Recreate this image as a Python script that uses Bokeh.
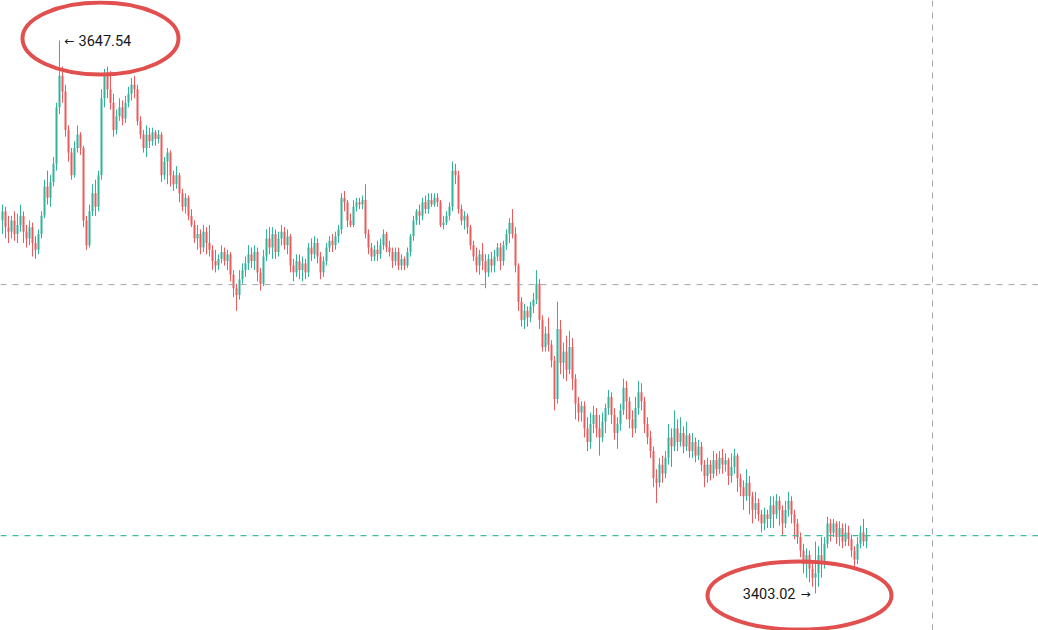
import numpy as np
from bokeh.plotting import figure
from bokeh.models import Range1d, Span, Label
from bokeh.embed import file_html
from bokeh.resources import INLINE

opens = [3568,3572,3565,3563,3568,3562,3566,3570,3563,3560,
3565,3558,3555,3562,3570,3583,3578,3585,3593,3618,
3632,3625,3608,3598,3588,3600,3606,3600,3568,3557,
3572,3580,3574,3588,3622,3632,3626,3620,3608,3614,
3618,3613,3620,3624,3628,3626,3612,3606,3600,3606,
3603,3607,3604,3606,3588,3594,3598,3588,3584,3588,
3580,3574,3578,3570,3566,3560,3562,3556,3563,3558,
3555,3550,3548,3551,3554,3550,3553,3544,3538,3535,
3542,3546,3549,3553,3550,3554,3545,3540,3552,3560,
3556,3562,3554,3560,3563,3557,3561,3548,3545,3550,
3546,3549,3545,3556,3553,3558,3552,3545,3550,3556,
3559,3557,3561,3564,3578,3576,3568,3566,3574,3576,
3575,3577,3562,3556,3552,3555,3553,3557,3562,3556,
3554,3550,3554,3548,3551,3548,3554,3561,3568,3572,
3570,3576,3573,3577,3575,3578,3576,3566,3567,3570,
3574,3590,3588,3573,3568,3570,3565,3557,3552,3548,
3553,3550,3545,3551,3548,3552,3556,3550,3557,3562,
3567,3562,3548,3532,3524,3528,3525,3530,3533,3540,
3524,3512,3518,3513,3506,3489,3520,3505,3510,3502,
3512,3498,3487,3483,3486,3476,3470,3478,3482,3476,
3472,3479,3485,3490,3482,3474,3478,3484,3494,3488,
3480,3476,3485,3492,3488,3478,3472,3466,3454,3452,
3460,3456,3463,3472,3468,3476,3470,3474,3468,3473,
3466,3470,3464,3468,3460,3455,3460,3456,3462,3458,
3463,3460,3462,3455,3459,3464,3454,3450,3446,3452,
3446,3440,3443,3438,3434,3438,3436,3442,3438,3444,
3440,3434,3440,3444,3438,3434,3428,3422,3416,3420,
3414,3410,3412,3420,3416,3425,3434,3430,3434,3428,
3432,3426,3430,3427,3422,3418,3425,3430,3426]

highs = [3575,3574,3570,3570,3572,3571,3575,3572,3566,3568,
3567,3561,3564,3572,3586,3590,3588,3596,3620,3647.54,
3636,3628,3610,3600,3603,3610,3607,3601,3570,3575,
3584,3586,3590,3626,3635,3636,3634,3624,3617,3622,
3621,3623,3627,3631,3632,3628,3614,3608,3610,3609,
3609,3608,3608,3607,3596,3600,3599,3590,3592,3589,
3582,3580,3579,3573,3568,3566,3564,3566,3565,3566,
3557,3555,3553,3557,3556,3555,3554,3546,3540,3546,
3549,3552,3557,3556,3557,3556,3547,3555,3564,3565,
3565,3564,3563,3566,3565,3564,3562,3551,3553,3553,
3552,3551,3558,3560,3561,3560,3554,3552,3558,3561,
3562,3563,3566,3580,3581,3577,3571,3577,3578,3578,
3579,3584,3564,3558,3557,3559,3560,3564,3563,3559,
3556,3556,3556,3553,3552,3556,3562,3570,3573,3575,
3578,3579,3580,3580,3580,3580,3577,3570,3572,3576,
3594,3593,3590,3575,3572,3571,3566,3559,3556,3555,
3558,3553,3553,3554,3555,3558,3558,3559,3564,3569,
3573,3565,3549,3534,3531,3530,3532,3536,3546,3542,
3526,3521,3525,3515,3508,3532,3524,3514,3517,3519,
3516,3500,3490,3488,3488,3481,3483,3486,3485,3482,
3483,3487,3493,3492,3485,3481,3487,3498,3497,3490,
3484,3490,3497,3496,3490,3481,3475,3468,3458,3463,
3464,3466,3478,3476,3484,3480,3481,3477,3479,3474,
3474,3472,3471,3470,3462,3463,3462,3466,3465,3466,
3467,3465,3463,3465,3467,3465,3456,3453,3458,3455,
3448,3448,3445,3440,3441,3440,3446,3446,3447,3446,
3442,3444,3448,3446,3440,3436,3430,3425,3423,3422,
3417,3426,3424,3428,3428,3437,3436,3436,3435,3435,
3434,3434,3433,3429,3424,3428,3433,3436,3432]

lows = [3562,3560,3558,3560,3559,3558,3563,3558,3556,3557,
3552,3551,3553,3560,3569,3575,3574,3583,3590,3615,
3620,3605,3594,3586,3587,3598,3597,3565,3555,3556,
3570,3570,3572,3586,3618,3622,3617,3605,3606,3612,
3610,3611,3618,3621,3622,3610,3604,3598,3596,3600,
3601,3601,3602,3585,3586,3584,3583,3581,3582,3576,
3572,3571,3568,3565,3558,3555,3553,3554,3553,3552,
3546,3545,3546,3549,3548,3546,3541,3534,3528,3533,
3540,3543,3546,3547,3546,3541,3537,3539,3550,3553,
3551,3551,3552,3557,3555,3553,3545,3541,3543,3542,
3541,3542,3543,3550,3551,3549,3542,3543,3548,3554,
3554,3555,3558,3562,3572,3565,3565,3565,3572,3573,
3573,3560,3553,3550,3550,3550,3551,3555,3554,3552,
3547,3548,3546,3546,3546,3547,3552,3559,3566,3566,
3568,3571,3571,3574,3574,3574,3565,3564,3566,3568,
3572,3584,3571,3566,3564,3562,3555,3550,3545,3544,
3546,3538,3543,3545,3545,3550,3546,3548,3555,3558,
3560,3545,3528,3521,3520,3521,3523,3527,3531,3520,
3510,3510,3510,3503,3484,3487,3500,3498,3497,3500,
3493,3480,3479,3479,3472,3466,3467,3474,3472,3464,
3470,3474,3482,3478,3471,3467,3475,3482,3480,3476,
3472,3474,3482,3484,3474,3469,3463,3450,3443,3450,
3452,3454,3460,3459,3466,3466,3468,3465,3466,3463,
3463,3461,3462,3457,3450,3452,3453,3454,3455,3456,
3456,3457,3451,3452,3456,3448,3446,3440,3444,3438,
3434,3436,3435,3430,3431,3432,3432,3432,3436,3433,
3429,3432,3437,3434,3427,3425,3419,3412,3410,3408,
3406,3403.02,3406,3410,3414,3423,3426,3428,3425,3424,
3423,3424,3424,3419,3414,3416,3423,3424,3423]

closes = [3572,3565,3563,3568,3562,3566,3570,3563,3560,3565,
3558,3555,3562,3570,3583,3578,3585,3593,3618,3632,
3625,3608,3598,3588,3600,3606,3600,3568,3557,3572,
3580,3574,3588,3622,3632,3626,3620,3608,3614,3618,
3613,3620,3624,3628,3626,3612,3606,3600,3606,3603,
3607,3604,3606,3588,3594,3598,3588,3584,3588,3580,
3574,3578,3570,3566,3560,3562,3556,3563,3558,3555,
3550,3548,3551,3554,3550,3553,3544,3538,3535,3542,
3546,3549,3553,3550,3554,3545,3540,3552,3560,3556,
3562,3554,3560,3563,3557,3561,3548,3545,3550,3546,
3549,3545,3556,3553,3558,3552,3545,3550,3556,3559,
3557,3561,3564,3578,3576,3568,3566,3574,3576,3575,
3577,3562,3556,3552,3555,3553,3557,3562,3556,3554,
3550,3554,3548,3551,3548,3554,3561,3568,3572,3570,
3576,3573,3577,3575,3578,3576,3566,3567,3570,3574,
3590,3588,3573,3568,3570,3565,3557,3552,3548,3553,
3550,3545,3551,3548,3552,3556,3550,3557,3562,3567,
3562,3548,3532,3524,3528,3525,3530,3533,3540,3524,
3512,3518,3513,3506,3489,3520,3505,3510,3502,3512,
3498,3487,3483,3486,3476,3470,3478,3482,3476,3472,
3479,3485,3490,3482,3474,3478,3484,3494,3488,3480,
3476,3485,3492,3488,3478,3472,3466,3454,3452,3460,
3456,3463,3472,3468,3476,3470,3474,3468,3473,3466,
3470,3464,3468,3460,3455,3460,3456,3462,3458,3463,
3460,3462,3455,3459,3464,3454,3450,3446,3452,3446,
3440,3443,3438,3434,3438,3436,3442,3438,3444,3440,
3434,3440,3444,3438,3434,3428,3422,3416,3420,3414,
3410,3412,3420,3416,3425,3434,3430,3434,3428,3432,
3426,3430,3427,3422,3418,3425,3430,3426,3428.6]

crosshair_bar = 310
crosshair_price = 3539.6

n = len(closes)
assert len(opens) == n and len(highs) == n and len(lows) == n, (len(opens), len(highs), len(lows), n)
idx = np.arange(n)

UP = "#34b29a"
DOWN = "#eb5a5d"
colors = [UP if c >= o else DOWN for o, c in zip(opens, closes)]
tops = [max(o, c) for o, c in zip(opens, closes)]
bots = [min(o, c) for o, c in zip(opens, closes)]

hi = max(highs)
lo = min(lows)
i_hi = highs.index(hi)
i_lo = lows.index(lo)

W, H = 1038, 630
PX_PER_BAR = 3.0
X0 = 2.0  # screen x of bar 0
ORIGIN = 0  # screen offset of the figure
x_start = (ORIGIN - X0) / PX_PER_BAR
x_end = x_start + W / PX_PER_BAR
ppu = (593 - 40) / (hi - lo)
y_end = hi + (40 - ORIGIN) / ppu
y_start = y_end - H / ppu

p = figure(width=W, height=H, x_range=Range1d(x_start, x_end), y_range=Range1d(y_start, y_end),
           output_backend="svg", toolbar_location=None, min_border=0,
           x_axis_location=None, y_axis_location=None,
           background_fill_color="white", border_fill_color="white", outline_line_color=None)
p.xgrid.visible = False
p.ygrid.visible = False

# crosshair & last price line
p.add_layout(Span(location=crosshair_bar, dimension="height", line_color="#a3a6ad", line_width=1, line_dash="6 6"))
p.add_layout(Span(location=crosshair_price, dimension="width", line_color="#a3a6ad", line_width=1, line_dash="6 6"))
p.add_layout(Span(location=closes[-1], dimension="width", line_color="#3dbd9d", line_width=1.3, line_dash="6 6"))

p.segment(x0=idx, y0=lows, x1=idx, y1=highs, line_color=colors, line_width=1)
p.vbar(x=idx, width=2 / PX_PER_BAR, top=tops, bottom=bots, fill_color=colors, line_color=None)

# annotations: arrows and price labels
TXT = dict(text_baseline="middle", text_color="#131722")
p.add_layout(Label(x=i_hi, y=hi, x_offset=5, text="\u2190", text_align="left",
                   text_font="DejaVu Sans", text_font_size="12px", **TXT))
p.add_layout(Label(x=i_hi, y=hi, x_offset=19, text=f"{hi:.2f}", text_align="left",
                   text_font="Roboto", text_font_size="14.5px", **TXT))
p.add_layout(Label(x=i_lo, y=lo, x_offset=-5, text="\u2192", text_align="right",
                   text_font="DejaVu Sans", text_font_size="12px", **TXT))
p.add_layout(Label(x=i_lo, y=lo, x_offset=-20, text=f"{lo:.2f}", text_align="right",
                   text_font="Roboto", text_font_size="14.5px", **TXT))

p.ellipse(x=[i_hi + 41 / PX_PER_BAR], y=[hi + 2 / ppu], width=156, height=72,
          width_units="screen", height_units="screen", fill_color=None, line_color="#e1504f", line_width=4)
p.ellipse(x=[i_lo - 16 / PX_PER_BAR], y=[lo - 2 / ppu], width=184, height=68,
          width_units="screen", height_units="screen", fill_color=None, line_color="#e1504f", line_width=4)

open("out.html", "w").write(file_html(p, INLINE))
